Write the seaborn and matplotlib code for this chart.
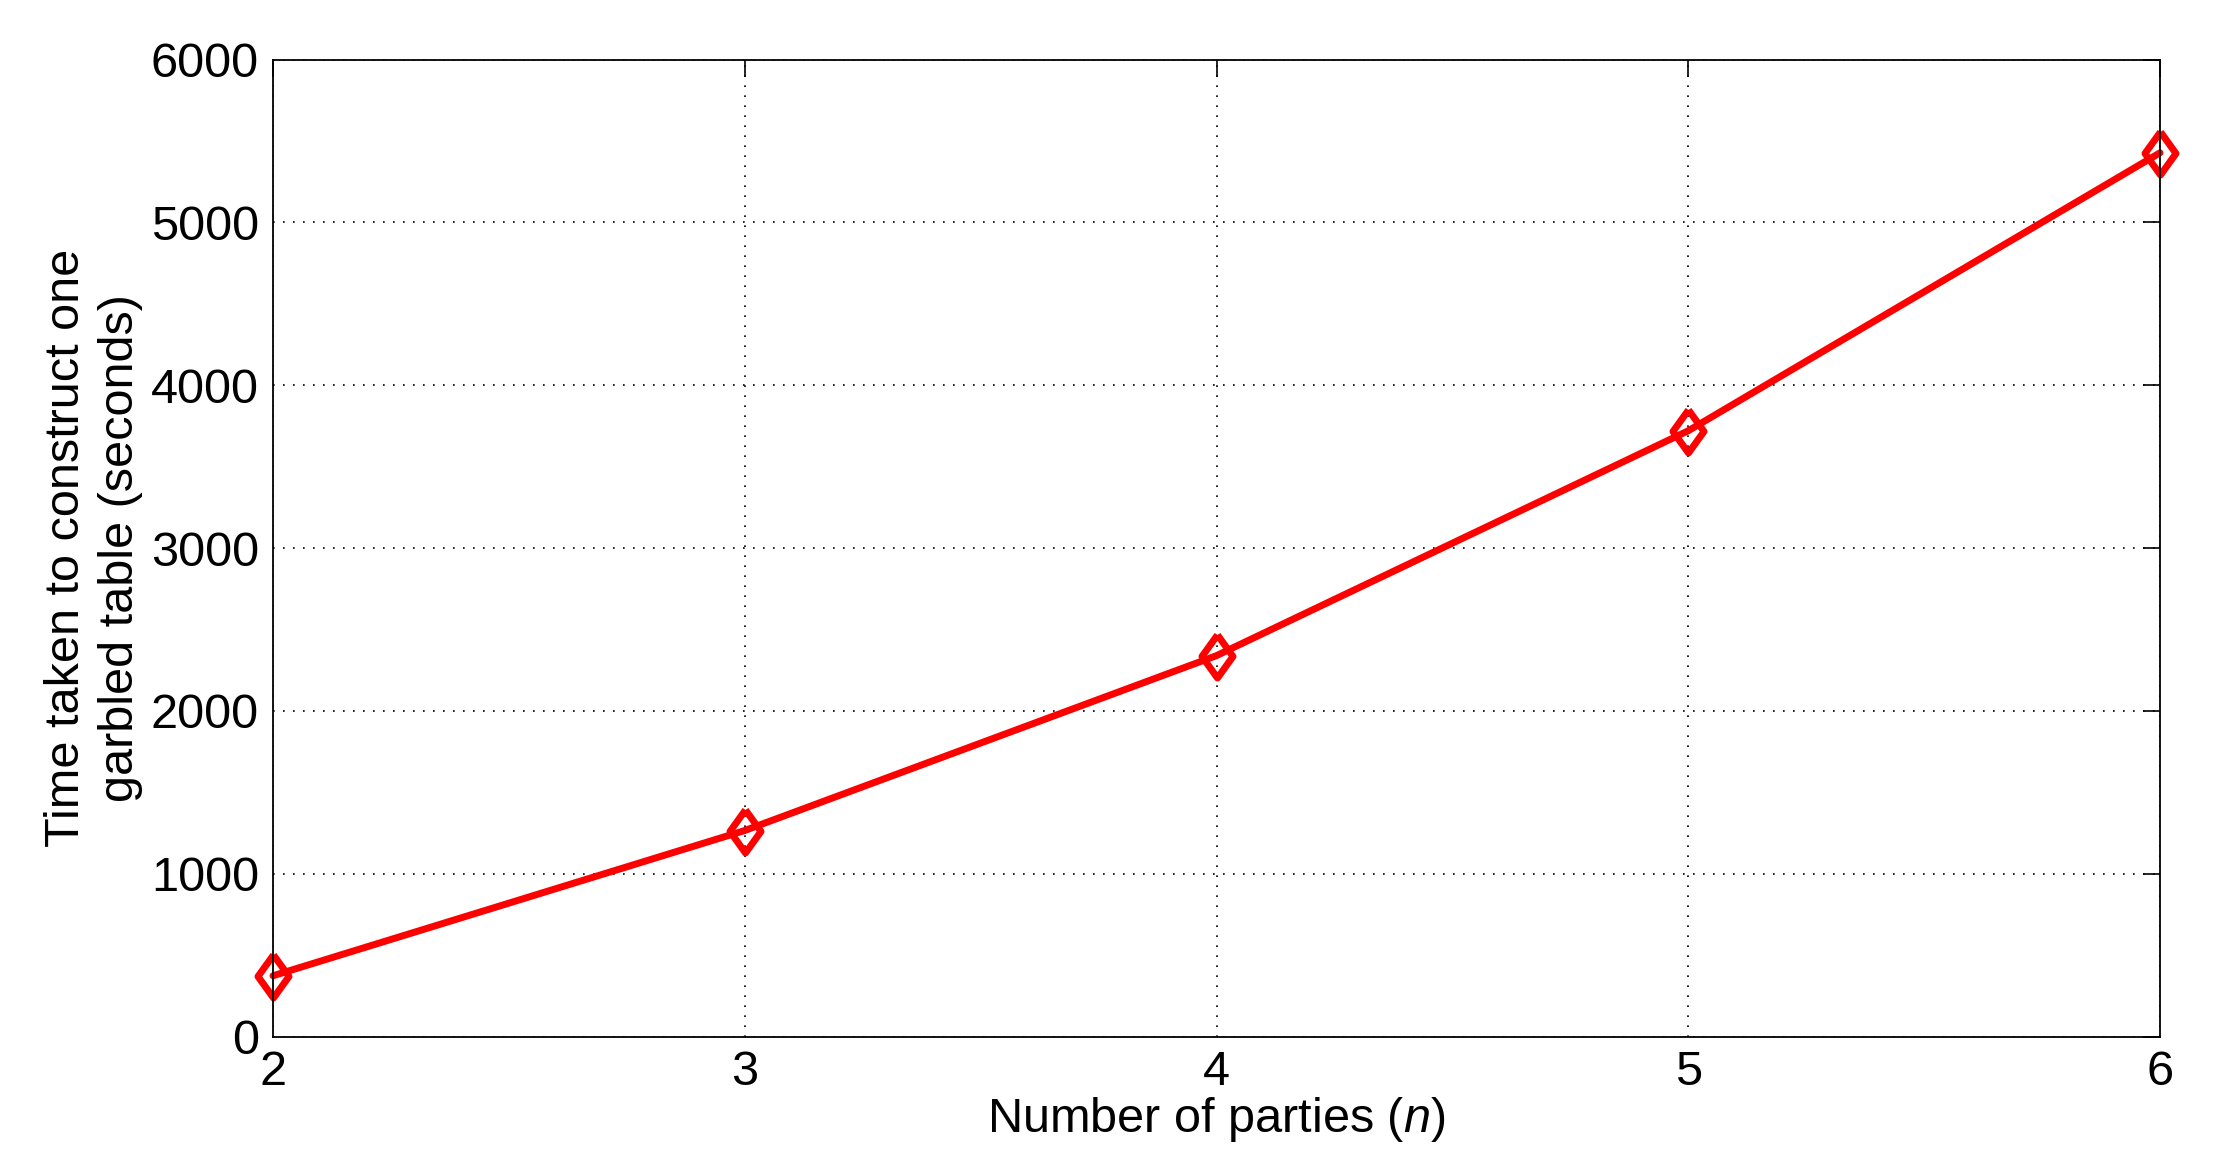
import numpy as np
import pandas as pd
import matplotlib
matplotlib.use('Agg')
import seaborn as sns
import matplotlib.pyplot as plt

parties = [2, 3, 4, 5, 6]
seconds = [373, 1265, 2339, 3720, 5427]
x_ticks = [2, 3, 4, 5, 6]
y_ticks = [0, 1000, 2000, 3000, 4000, 5000, 6000]

sns.set_theme(style="white")
plt.rcParams['font.family'] = ['Liberation Sans', 'DejaVu Sans']
plt.rcParams['mathtext.fontset'] = 'custom'
plt.rcParams['mathtext.it'] = 'Liberation Sans:italic'
plt.rcParams['mathtext.rm'] = 'Liberation Sans'
plt.rcParams['text.color'] = 'black'
plt.rcParams['axes.labelcolor'] = 'black'

df = pd.DataFrame({"n": parties, "t": seconds})

# matlab style diamond, a bit narrower than tall
diamond = [(0, 1), (0.72, 0), (0, -1), (-0.72, 0), (0, 1)]

fig = plt.figure(figsize=(22.2, 11.72), dpi=100)
ax = fig.add_axes([273 / 2220, 1 - 1036.5 / 1172, (2160 - 273) / 2220, (1036.5 - 59.5) / 1172])

sns.lineplot(data=df, x="n", y="t", ax=ax, color="#ff0000", linewidth=5,
             marker=diamond, markersize=31, markerfacecolor="none",
             markeredgecolor="#ff0000", markeredgewidth=5, clip_on=False)

ax.set_xlim(2, 6)
ax.set_ylim(0, 6000)
ax.set_xticks(x_ticks)
ax.set_yticks(y_ticks)
ax.grid(True, linestyle=(0, (1, 5)), color="black", linewidth=1.2)
for s in ax.spines.values():
    s.set_color("black")
    s.set_linewidth(1.3)
ax.tick_params(direction="in", length=12, width=1.2, labelsize=35, colors="black",
               top=True, right=True, pad=10)
ax.set_xlabel("Number of parties ($n$)", fontsize=35, labelpad=0)
ax.set_ylabel("Time taken to construct one\ngarbled table (seconds)", fontsize=35,
              linespacing=1.25, labelpad=6)

fig.savefig("out.png", dpi=100)
